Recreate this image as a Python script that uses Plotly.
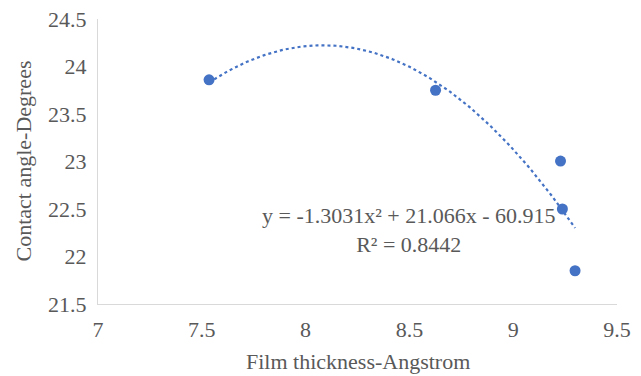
import numpy as np
import plotly.graph_objects as go

thickness = [7.535, 8.626, 9.228, 9.237, 9.298]
angle = [23.86, 23.75, 23.005, 22.50, 21.85]
poly_coeffs = [-1.3031, 21.066, -60.915]
eq_text = "y = -1.3031x² + 21.066x - 60.915<br>R² = 0.8442"
x_ticks = [7, 7.5, 8, 8.5, 9, 9.5]
y_ticks = [21.5, 22, 22.5, 23, 23.5, 24, 24.5]

xt = np.linspace(min(thickness), max(thickness), 200)
yt = np.polyval(poly_coeffs, xt)

font = "Liberation Serif, Times New Roman, serif"
grey = "#595959"
fs = 22

fig = go.Figure()
fig.add_trace(go.Scatter(x=xt, y=yt, mode="lines",
                         line=dict(color="#4472C4", width=2.2, dash="dot"),
                         hoverinfo="skip", showlegend=False))
fig.add_trace(go.Scatter(x=thickness, y=angle, mode="markers",
                         marker=dict(color="#4472C4", size=11),
                         showlegend=False))

fig.add_annotation(x=8.50, y=22.28, xref="x", yref="y", text=eq_text,
                   showarrow=False, align="center",
                   font=dict(family=font, size=fs, color=grey))
fig.add_annotation(x=-0.1445, y=0.5, xref="paper", yref="paper",
                   text="Contact angle-Degrees", textangle=-90, showarrow=False,
                   xanchor="center", yanchor="middle",
                   font=dict(family=font, size=fs, color=grey))
fig.add_annotation(x=0.5, y=-0.2035, xref="paper", yref="paper",
                   text="Film thickness-Angstrom", showarrow=False,
                   xanchor="center", yanchor="middle",
                   font=dict(family=font, size=fs, color=grey))

fig.update_layout(
    width=633, height=368,
    margin=dict(l=90, r=24, t=11, b=72, autoexpand=False),
    paper_bgcolor="white", plot_bgcolor="white",
    font=dict(family=font, color=grey, size=fs),
)
fig.update_xaxes(range=[7, 9.5], tickvals=x_ticks, ticktext=[f"{v:g}" for v in x_ticks],
                 showgrid=False, zeroline=False, showline=True, linecolor="#d9d9d9",
                 linewidth=1, ticks="", automargin=False, ticklabelstandoff=6,
                 ticklabeloverflow="allow",
                 tickfont=dict(size=fs, family=font, color=grey))
fig.update_yaxes(range=[21.5, 24.5], tickvals=y_ticks, ticktext=[f"{v:g}" for v in y_ticks],
                 showgrid=False, zeroline=False, showline=True, linecolor="#d9d9d9",
                 linewidth=1, ticks="", automargin=False, ticklabelstandoff=6,
                 ticklabeloverflow="allow",
                 tickfont=dict(size=fs, family=font, color=grey))

fig.write_html("out.html")
